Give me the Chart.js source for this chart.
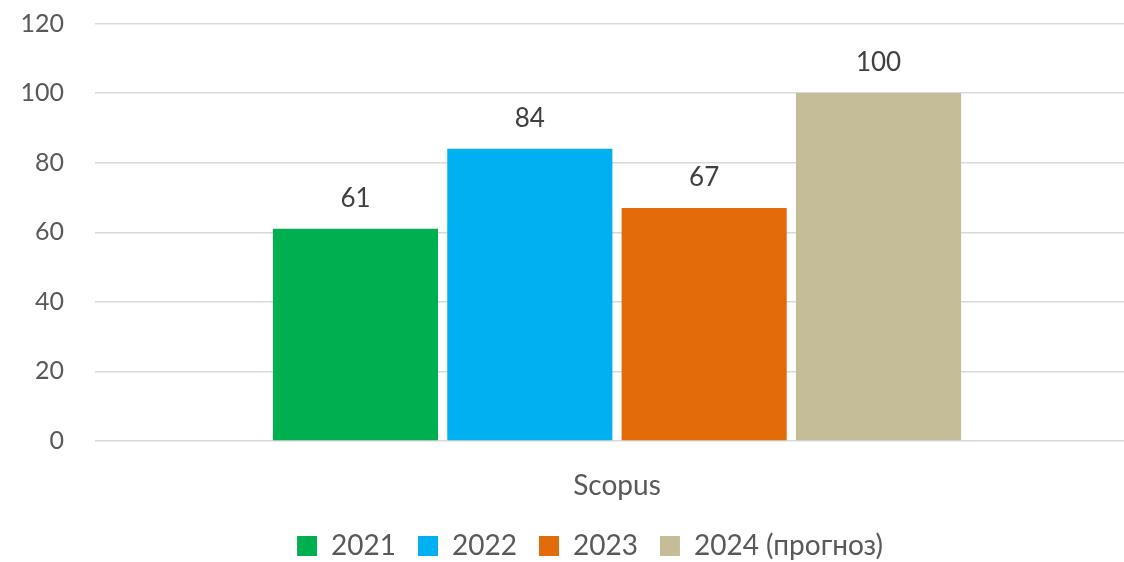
<!DOCTYPE html>
<html>
<head>
<meta charset="utf-8">
<script src="https://cdn.jsdelivr.net/npm/chart.js@4.4.0/dist/chart.umd.min.js"></script>
<style>
    html, body { margin: 0; padding: 0; background: #ffffff; overflow: hidden; }
    /* plot area runs a bit past the right/bottom edge like the original */
    #wrap { width: 1139px; height: 570px; }
</style>
</head>
<body>
<div id="wrap"><canvas id="chart"></canvas></div>
<script>
// --- Data ---
const categories = ['Scopus'];
const seriesNames = ['2021', '2022', '2023', '2024 (прогноз)'];
const seriesValues = [[61], [84], [67], [100]];
const seriesColors = ['#00b050', '#00b0f0', '#e36c0a', '#c4bd97'];
const yTicks = [0, 20, 40, 60, 80, 100, 120];

const FONT = 'Lato, "Open Sans", sans-serif';

// --- Value labels above bars ---
const valueLabels = {
    id: 'valueLabels',
    afterDatasetsDraw(chart) {
        const ctx = chart.ctx;
        ctx.save();
        ctx.font = '26px ' + FONT;
        ctx.fillStyle = '#404040';
        ctx.textAlign = 'center';
        ctx.textBaseline = 'middle';
        chart.data.datasets.forEach((ds, i) => {
            chart.getDatasetMeta(i).data.forEach((bar, j) => {
                ctx.fillText(ds.data[j], bar.x, bar.y - 30);
            });
        });
        ctx.restore();
    }
};

const datasets = seriesNames.map((name, i) => ({
    label: name,
    data: seriesValues[i],
    backgroundColor: seriesColors[i],
    borderWidth: 0,
    categoryPercentage: 0.668,
    barPercentage: 0.947
}));

new Chart(document.getElementById('chart').getContext('2d'), {
    type: 'bar',
    data: { labels: categories, datasets: datasets },
    options: {
        responsive: true,
        maintainAspectRatio: false,
        animation: false,
        // negative right padding only nudges the legend to the right
        layout: { padding: { top: 23.5, right: -27, left: 14, bottom: 0 } },
        scales: {
            y: {
                min: 0,
                max: 120,
                afterBuildTicks: axis => { axis.ticks = yTicks.map(v => ({ value: v })); },
                afterFit: s => { s.width = 81; s.paddingTop = 0; s.paddingBottom = 0; },
                grid: { color: '#d9d9d9', lineWidth: 1.5, drawTicks: false },
                border: { display: false },
                ticks: { color: '#595959', font: { size: 25, family: FONT }, padding: 31 }
            },
            x: {
                afterFit: s => { s.height = 69; },
                grid: { display: false },
                border: { display: false },
                ticks: { color: '#595959', font: { size: 28, family: FONT }, padding: 20 }
            }
        },
        plugins: {
            legend: {
                position: 'bottom',
                labels: {
                    color: '#595959',
                    font: { size: 28, family: FONT },
                    boxWidth: 20,
                    boxHeight: 20,
                    padding: 22
                }
            },
            tooltip: { enabled: false }
        }
    },
    plugins: [valueLabels]
});
</script>
</body>
</html>
